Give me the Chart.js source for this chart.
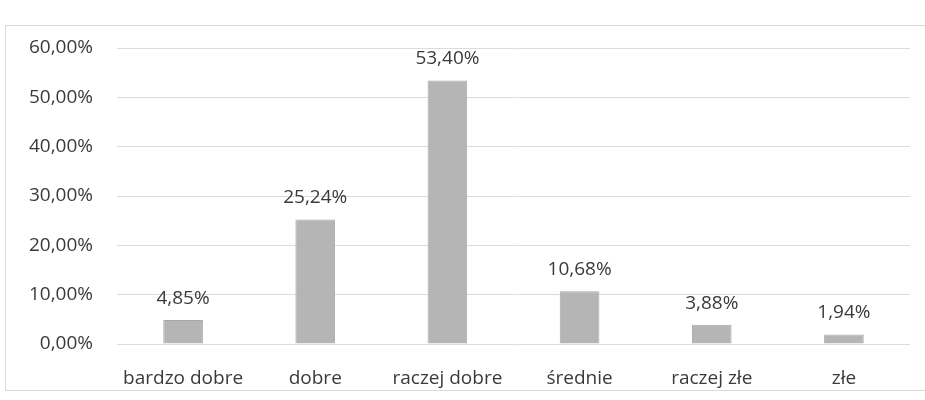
<!DOCTYPE html>
<html>
<head>
<meta charset="utf-8">
<script src="https://cdn.jsdelivr.net/npm/chart.js@4/dist/chart.umd.min.js"></script>
<style>
  html,body{margin:0;padding:0;background:#fff;}
  #wrap{position:relative;width:925px;height:400px;overflow:hidden;}
  #frame{position:absolute;left:5px;top:25px;width:940px;height:364px;border:1px solid #dadada;border-right:none;}
  canvas{position:absolute;left:0;top:0;}
</style>
</head>
<body>
<div id="wrap">
  <div id="frame"></div>
  <canvas id="c" width="925" height="400"></canvas>
</div>
<script>
const categories = ['bardzo dobre','dobre','raczej dobre','średnie','raczej złe','złe'];
const shares = [4.85, 25.24, 53.40, 10.68, 3.88, 1.94];
const yTicks = [0, 10, 20, 30, 40, 50, 60];

const FONT = '"Open Sans", Lato, sans-serif';
const TEXT = '#3a3a3a';
const pct = v => v.toFixed(2).replace('.', ',') + '%';

// value labels over each bar
const barLabels = {
  id: 'barLabels',
  afterDatasetsDraw(chart){
    const ctx = chart.ctx;
    const meta = chart.getDatasetMeta(0);
    ctx.save();
    ctx.font = '19px ' + FONT;
    ctx.fillStyle = TEXT;
    ctx.textAlign = 'center';
    ctx.textBaseline = 'bottom';
    meta.data.forEach((bar, i) => {
      ctx.fillText(pct(shares[i]), bar.x, bar.y - 12);
    });
    ctx.restore();
  }
};

new Chart(document.getElementById('c'), {
  type: 'bar',
  data: {
    labels: categories,
    datasets: [{
      data: shares,
      backgroundColor: '#b5b5b5',
      borderColor: '#a8a8a8',
      borderWidth: 1,
      categoryPercentage: 1,
      barPercentage: 0.3
    }]
  },
  options: {
    responsive: false,
    animation: false,
    layout: { padding: { top: 48, right: 15, bottom: 0, left: 0 } },
    plugins: { legend: { display: false }, tooltip: { enabled: false } },
    scales: {
      x: {
        grid: { display: false },
        border: { display: false },
        ticks: { color: TEXT, font: { family: FONT, size: 19 }, padding: 15 },
        afterFit(s){ s.height = 56; }
      },
      y: {
        min: 0, max: 60,
        afterBuildTicks(s){ s.ticks = yTicks.map(v => ({ value: v })); },
        grid: { color: '#dcdcdc', drawTicks: false },
        border: { display: false },
        ticks: {
          color: TEXT, font: { family: FONT, size: 19 }, padding: 24,
          callback: v => pct(v)
        },
        afterFit(s){ s.width = 117; }
      }
    }
  },
  plugins: [barLabels]
});
</script>
</body>
</html>
